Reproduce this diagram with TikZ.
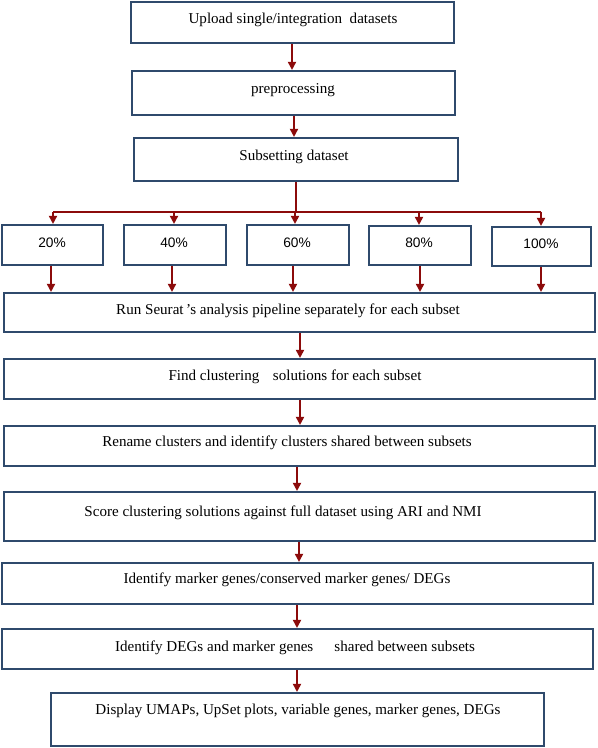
\documentclass[tikz,border=0pt]{standalone}
\usepackage{fontspec}
\setmainfont{Liberation Serif}
\newfontfamily\pctfont{Liberation Sans}
\usetikzlibrary{arrows.meta,fit}
\definecolor{boxblue}{HTML}{2F4A6C}
\definecolor{arrred}{HTML}{8C0B0B}
\begin{document}
\begin{tikzpicture}[x=0.75pt,y=-0.75pt,
  box/.style={draw=boxblue,line width=1.6pt,inner sep=0pt,fill=none},
  txt/.style={inner sep=0pt,font=\fontsize{11.3pt}{13pt}\selectfont},
  pct/.style={inner sep=0pt,font=\pctfont\fontsize{10.3pt}{12pt}\selectfont},
  wire/.style={draw=arrred,line width=1.35pt},
  arr/.style={wire,-{Triangle[length=6pt,width=6pt]}}]
\useasboundingbox (0,0) rectangle (597,748);
% boxes
\node[box,fit={(131,2)(454,43)}] (b1) {};
\node[box,fit={(132,71)(455,115)}] (b2) {};
\node[box,fit={(134,138)(458,181)}] (b3) {};
\node[box,fit={(2,225)(103,265)}] (p1) {};
\node[box,fit={(124,225)(226,265)}] (p2) {};
\node[box,fit={(247,225)(349,265)}] (p3) {};
\node[box,fit={(369,226)(471,265)}] (p4) {};
\node[box,fit={(492,227)(591,266)}] (p5) {};
\node[box,fit={(4,293)(595,332)}] (run) {};
\node[box,fit={(4,359)(595,399)}] (find) {};
\node[box,fit={(4,426)(595,466)}] (ren) {};
\node[box,fit={(4,492)(595,541)}] (score) {};
\node[box,fit={(2,563)(593,604)}] (mark) {};
\node[box,fit={(2,629)(593,669)}] (degs) {};
\node[box,fit={(51,693)(544,746)}] (disp) {};
% texts
\node[txt] (t1) at (293,20) {Upload\ single/integration\ \ datasets};
\node[txt] (t2) at (293,90) {preprocessing};
\node[txt] (t3) at (294,157) {Subsetting dataset};
\node[pct] (q1) at (52,243) {20\%};
\node[pct] (q2) at (174,243) {40\%};
\node[pct] (q3) at (297,243) {60\%};
\node[pct] (q4) at (419,243) {80\%};
\node[pct] (q5) at (541,244) {100\%};
\node[txt] (t4) at (288,311) {Run Seurat\,’s analysis pipeline separately for each subset};
\node[txt] (t5) at (295,377) {Find clustering\hspace{0.9em}solutions for each subset};
\node[txt] (t6) at (287,443) {Rename clusters and identify clusters shared between subsets};
\node[txt] (t7) at (283,513) {Score clustering solutions against full dataset using ARI and NMI};
\node[txt] (t8) at (287,580) {Identify marker genes/conserved marker genes/ DEGs};
\node[txt] (t9) at (295,648) {Identify DEGs and marker genes\hspace{1.4em}shared between subsets};
\node[txt] (t10) at (298,711) {Display UMAPs, UpSet plots, variable genes, marker genes, DEGs};
% connector columns
\coordinate (c1) at (292,0);
\coordinate (c2) at (294,0);
\coordinate (tr) at (296,211.7);
\coordinate (h1) at (53,211.7);
\coordinate (h2) at (174,211.7);
\coordinate (h3) at (295,211.7);
\coordinate (h4) at (419,211.7);
\coordinate (h5) at (541,211.7);
\coordinate (d1) at (51,0);
\coordinate (d2) at (172,0);
\coordinate (d3) at (293,0);
\coordinate (d4) at (420,0);
\coordinate (d5) at (541,0);
\coordinate (c3) at (300,0);
\coordinate (c4) at (300,0);
\coordinate (c5) at (297,0);
\coordinate (c6) at (299,0);
\coordinate (c7) at (297,0);
\coordinate (c8) at (297,0);
% connectors
\draw[arr] (b1.south -| c1) -- (b2.north -| c1);
\draw[arr] (b2.south -| c2) -- (b3.north -| c2);
\draw[wire] (b3.south -| tr) -- (tr);
\draw[wire] (h1) -- (h5);
\draw[arr] (h1) -- (p1.north -| h1);
\draw[arr] (h2) -- (p2.north -| h2);
\draw[arr] (h3) -- (p3.north -| h3);
\draw[arr] (h4) -- (p4.north -| h4);
\draw[arr] (h5) -- (p5.north -| h5);
\draw[arr] (p1.south -| d1) -- (run.north -| d1);
\draw[arr] (p2.south -| d2) -- (run.north -| d2);
\draw[arr] (p3.south -| d3) -- (run.north -| d3);
\draw[arr] (p4.south -| d4) -- (run.north -| d4);
\draw[arr] (p5.south -| d5) -- (run.north -| d5);
\draw[arr] (run.south -| c3) -- (find.north -| c3);
\draw[arr] (find.south -| c4) -- (ren.north -| c4);
\draw[arr] (ren.south -| c5) -- (score.north -| c5);
\draw[arr] (score.south -| c6) -- (mark.north -| c6);
\draw[arr] (mark.south -| c7) -- (degs.north -| c7);
\draw[arr] (degs.south -| c8) -- (disp.north -| c8);
\end{tikzpicture}
\end{document}
